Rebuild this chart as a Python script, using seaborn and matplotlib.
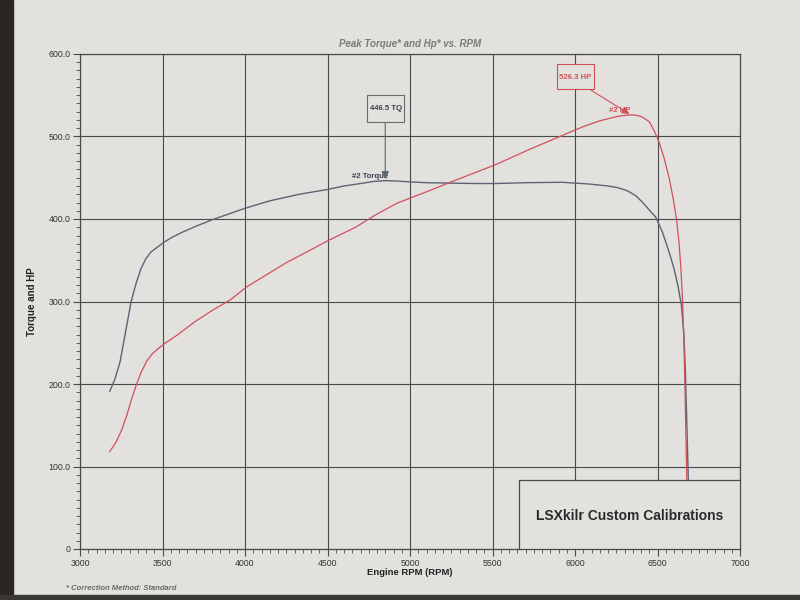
import matplotlib
matplotlib.use("Agg")
import matplotlib.pyplot as plt
from matplotlib.ticker import MultipleLocator, FixedLocator
from matplotlib.patches import Rectangle
import seaborn as sns
import pandas as pd

# ---- data ----
torque_rpm = [3180, 3210, 3243, 3275, 3310, 3340, 3370, 3400, 3430, 3470, 3510,
              3560, 3620, 3700, 3800, 3900, 4000, 4150, 4330, 4506, 4600, 4700,
              4780, 4850, 4920, 5000, 5100, 5250, 5400, 5520, 5700, 5920, 6080,
              6200, 6260, 6320, 6370, 6410, 6450, 6490, 6530, 6570, 6600, 6625,
              6645, 6660, 6670, 6678, 6686, 6694]
torque_val = [191, 205, 227, 262, 300, 322, 340, 352, 360, 366, 372,
              378, 384, 391, 399, 406, 413, 422, 430, 436, 440, 443,
              445.5, 446.5, 446, 445, 444, 443.5, 443, 443, 444, 444.5, 442.5,
              440, 438, 434, 428, 420, 411, 402, 384, 360, 340, 318,
              295, 260, 210, 150, 90, 30]

hp_rpm = [3180, 3220, 3256, 3285, 3310, 3340, 3370, 3405, 3440, 3480, 3520,
          3580, 3640, 3700, 3800, 3911, 4012, 4250, 4506, 4670, 4800, 4920,
          5100, 5250, 5520, 5720, 5920, 6050, 6150, 6250, 6300, 6350, 6400,
          6450, 6480, 6510, 6540, 6570, 6595, 6615, 6630, 6642, 6652, 6660,
          6666, 6672, 6678, 6684]
hp_val = [118, 130, 146, 163, 180, 198, 214, 228, 237, 244, 250,
          258, 267, 276, 289, 302, 318, 347, 374, 390, 406, 419,
          433, 445, 466, 484, 501, 512, 519, 524, 525.6, 526.3, 524.5,
          518, 507, 493, 474, 450, 425, 400, 372, 340, 300, 250,
          200, 140, 80, 30]

x_ticks = [3000, 3500, 4000, 4500, 5000, 5500, 6000, 6500, 7000]
x_labels = ["3000", "3500", "4000", "4500", "5000", "5500", "6000", "6500", "7000"]
y_ticks = [0, 100, 200, 300, 400, 500, 600]
y_labels = ["0", "100.0", "200.0", "300.0", "400.0", "500.0", "600.0"]

peak_tq_rpm, peak_tq = 4850, 446.5
peak_hp_rpm, peak_hp = 6350, 526.3

# ---- style ----
sns.set_style("white")
plt.rcParams['font.family'] = ['Liberation Sans', 'DejaVu Sans']

paper = "#e3e1dd"
grid_c = "#4a4a4a"
tq_c = "#5c6373"
hp_c = "#d0505a"

fig = plt.figure(figsize=(8, 6), dpi=100, facecolor=paper)
ax = fig.add_axes([0.1, 0.085, 0.825, 0.825])
ax.set_facecolor(paper)

# photo frame edges
fig.patches.append(Rectangle((0, 0), 0.016, 1, transform=fig.transFigure,
                             color="#2a2624", zorder=0))
fig.patches.append(Rectangle((0, 0), 1, 0.008, transform=fig.transFigure,
                             color="#3a3836", zorder=0))

df_tq = pd.DataFrame({"rpm": torque_rpm, "val": torque_val})
df_hp = pd.DataFrame({"rpm": hp_rpm, "val": hp_val})
sns.lineplot(data=df_tq, x="rpm", y="val", color=tq_c, lw=1.0, estimator=None,
             sort=False, ax=ax, zorder=3)
sns.lineplot(data=df_hp, x="rpm", y="val", color=hp_c, lw=0.9, estimator=None,
             sort=False, ax=ax, zorder=3)

ax.set_xlim(3000, 7000)
ax.set_ylim(0, 600)
ax.xaxis.set_major_locator(FixedLocator(x_ticks))
ax.set_xticklabels(x_labels)
ax.yaxis.set_major_locator(FixedLocator(y_ticks))
ax.set_yticklabels(y_labels)
ax.xaxis.set_minor_locator(MultipleLocator(50))
ax.yaxis.set_minor_locator(MultipleLocator(10))
ax.grid(True, which="major", color=grid_c, lw=0.8, zorder=1)
ax.tick_params(axis="both", which="major", direction="out", length=5, width=0.8,
               color=grid_c, labelsize=6.3, labelcolor="#333333", pad=2,
               left=True, bottom=True)
ax.tick_params(axis="both", which="minor", direction="out", length=3, width=0.6,
               color=grid_c, left=True, bottom=True)
for s in ax.spines.values():
    s.set_color(grid_c)
    s.set_linewidth(0.9)

ax.set_xlabel("Engine RPM (RPM)", fontsize=6.8, fontweight="bold", color="#222222",
              labelpad=0)
ax.set_ylabel("Torque and HP", fontsize=7, fontweight="bold", color="#222222",
              labelpad=8)
ax.set_title("Peak Torque* and Hp* vs. RPM", fontsize=7, fontstyle="italic",
             fontweight="bold", color="#7a7a7a", pad=5)

# torque peak annotation
ax.add_patch(Rectangle((4742, 518), 222, 32, facecolor=paper, edgecolor="#6a6a6a",
                       lw=0.8, zorder=6))
ax.text(4853, 534, f"{peak_tq} TQ", fontsize=5.6, fontweight="bold", color="#3e4150",
        ha="center", va="center", zorder=7)
ax.annotate("", xy=(peak_tq_rpm, peak_tq + 2), xytext=(peak_tq_rpm, 518),
            arrowprops=dict(arrowstyle="-|>", color=tq_c, lw=0.8,
                            mutation_scale=11, shrinkA=0, shrinkB=0), zorder=5)
ax.text(peak_tq_rpm + 15, 452, "#2 Torque", fontsize=5.6, fontweight="bold",
        color="#3e4150", ha="right", va="center", zorder=4)

# hp peak annotation
ax.add_patch(Rectangle((5892, 557), 222, 31, facecolor=paper, edgecolor=hp_c,
                       lw=0.8, zorder=6))
ax.text(6003, 572, f"{peak_hp} HP", fontsize=5.6, fontweight="bold", color=hp_c,
        ha="center", va="center", zorder=7)
ax.text(peak_hp_rpm - 15, 531, "#2 HP", fontsize=5.6, fontweight="bold",
        color=hp_c, ha="right", va="center", zorder=4)
ax.annotate("", xy=(peak_hp_rpm - 20, peak_hp + 1), xytext=(6090, 557),
            arrowprops=dict(arrowstyle="-|>", color=hp_c, lw=0.8,
                            mutation_scale=11, shrinkA=0, shrinkB=0), zorder=5)

# brand box
ax.add_patch(Rectangle((5660, 0), 1340, 84, facecolor=paper, edgecolor=grid_c,
                       lw=0.9, zorder=7))
ax.text(6330, 40, "LSXkilr Custom Calibrations", fontsize=10, fontweight="bold",
        color="#2a2a2a", ha="center", va="center", zorder=8)

fig.text(0.082, 0.013, "* Correction Method: Standard", fontsize=5.5,
         fontstyle="italic", fontweight="bold", color="#6a6a6a", ha="left",
         va="bottom")

fig.savefig("out.png", dpi=100, facecolor=paper)
